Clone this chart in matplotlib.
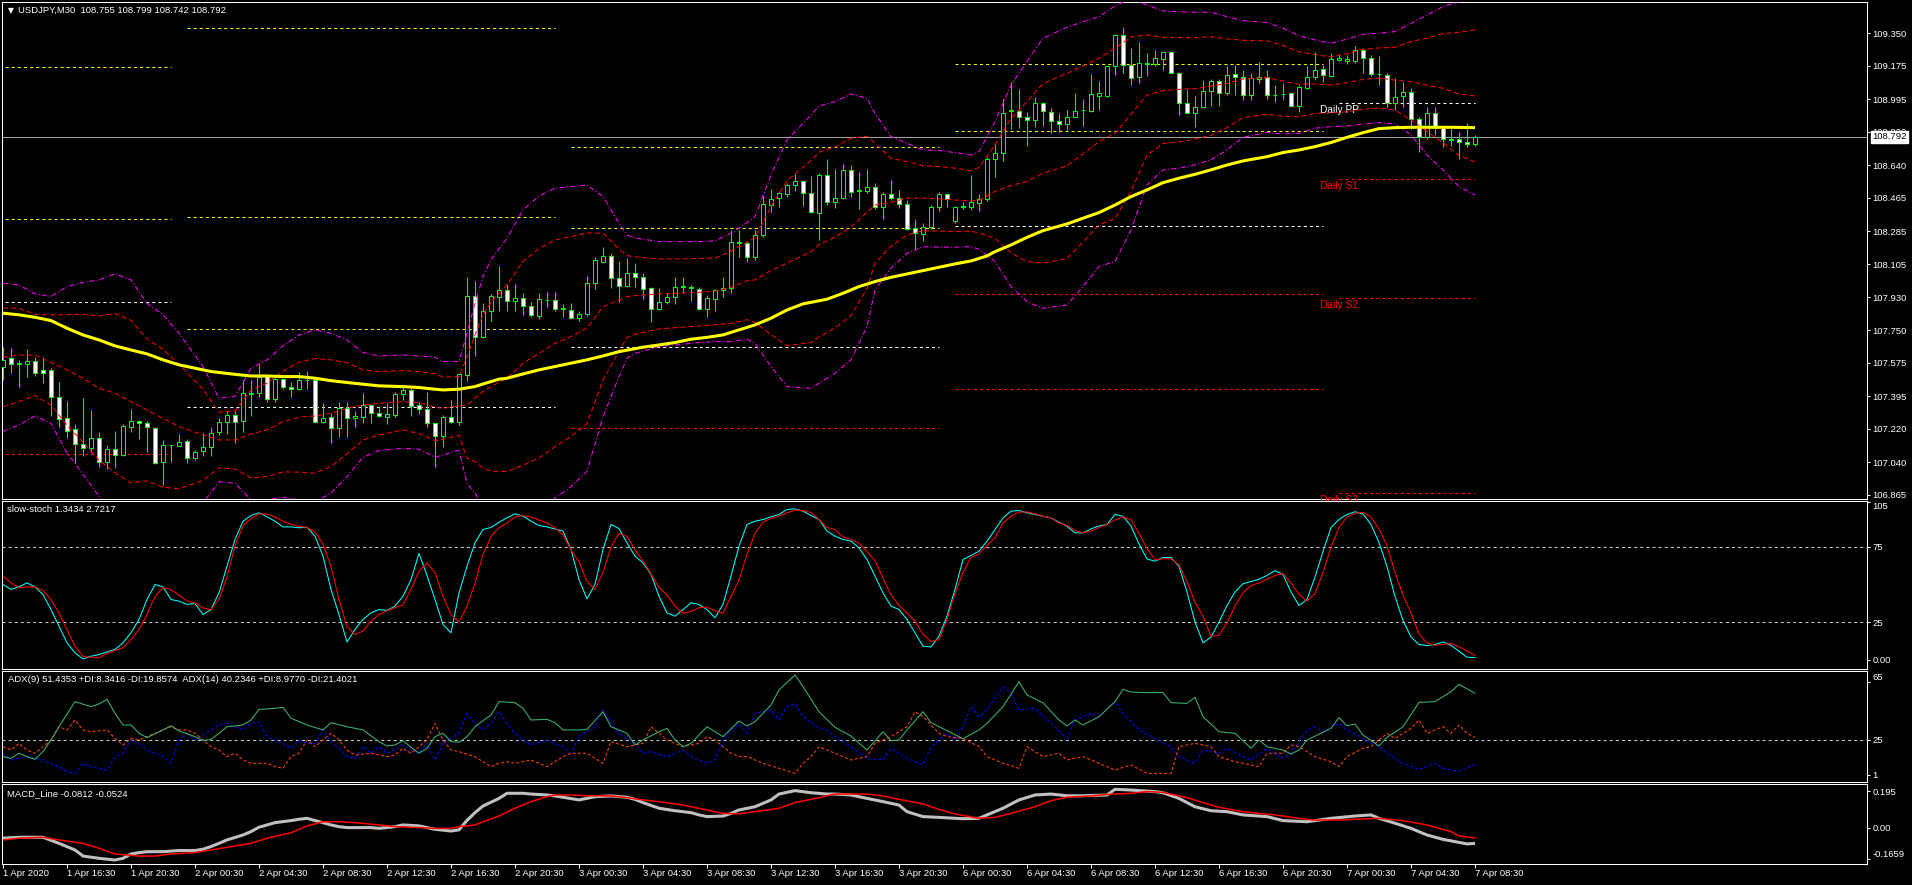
import matplotlib
matplotlib.use("Agg")
import matplotlib.pyplot as plt
from matplotlib import font_manager as fm
from matplotlib import transforms as mtrans

plt.rcParams['lines.scale_dashes'] = False
_names = {f.name for f in fm.fontManager.ttflist}
if 'Liberation Sans Narrow' in _names:
    FONT, FS = ['Liberation Sans Narrow', 'DejaVu Sans'], 8
else:
    FONT, FS = ['Liberation Sans', 'DejaVu Sans'], 6.8
plt.rcParams['font.family'] = FONT

# ---------------- data: USDJPY M30 candles (bar 0 = 1 Apr 12:30) ----------------
opens = [107.556, 107.604, 107.570, 107.568, 107.586, 107.538, 107.538, 107.391, 107.278, 107.219,
         107.138, 107.116, 107.170, 107.045, 107.111, 107.079, 107.228, 107.263, 107.251, 107.224,
         107.045, 107.133, 107.131, 107.158, 107.063, 107.104, 107.122, 107.202, 107.256, 107.296,
         107.265, 107.409, 107.412, 107.505, 107.380, 107.488, 107.445, 107.434, 107.482, 107.484,
         107.260, 107.283, 107.224, 107.332, 107.278, 107.287, 107.350, 107.305, 107.287, 107.296,
         107.407, 107.430, 107.350, 107.326, 107.251, 107.183, 107.283, 107.260, 107.511, 107.936,
         107.713, 107.852, 107.932, 107.968, 107.911, 107.923, 107.882, 107.828, 107.913, 107.914,
         107.866, 107.861, 107.816, 107.839, 108.008, 108.120, 108.153, 108.031, 107.991, 108.061,
         108.040, 107.977, 107.864, 107.905, 107.932, 107.984, 107.981, 107.972, 107.864, 107.918,
         107.965, 107.977, 108.228, 108.219, 108.147, 108.262, 108.425, 108.461, 108.484, 108.531,
         108.556, 108.488, 108.384, 108.587, 108.443, 108.461, 108.614, 108.501, 108.502, 108.520,
         108.413, 108.484, 108.461, 108.431, 108.300, 108.268, 108.309, 108.413, 108.484, 108.341,
         108.415, 108.416, 108.438, 108.456, 108.671, 108.707, 108.931, 108.933, 108.900, 108.883,
         108.976, 108.927, 108.879, 108.861, 108.900, 108.935, 108.933, 109.013, 109.013, 109.173,
         109.340, 109.178, 109.112, 109.186, 109.184, 109.209, 109.246, 109.137, 108.976, 108.922,
         108.954, 109.040, 109.094, 109.030, 109.130, 109.116, 109.017, 109.105, 109.112, 109.015,
         109.021, 109.026, 108.958, 109.053, 109.112, 109.155, 109.119, 109.205, 109.202, 109.202,
         109.259, 109.214, 109.128, 109.125, 108.972, 109.013, 109.035, 108.886, 108.789, 108.922,
         108.838, 108.777, 108.779, 108.762, 108.755]
highs = [107.660, 107.654, 107.592, 107.649, 107.609, 107.609, 107.547, 107.475, 107.373, 107.247,
         107.389, 107.323, 107.202, 107.134, 107.210, 107.247, 107.326, 107.269, 107.263, 107.233,
         107.161, 107.136, 107.194, 107.165, 107.107, 107.197, 107.233, 107.278, 107.319, 107.319,
         107.484, 107.484, 107.570, 107.511, 107.505, 107.493, 107.475, 107.529, 107.534, 107.493,
         107.362, 107.305, 107.367, 107.367, 107.319, 107.416, 107.355, 107.344, 107.362, 107.421,
         107.448, 107.439, 107.367, 107.421, 107.254, 107.296, 107.376, 107.523, 108.036, 108.018,
         107.900, 107.947, 108.097, 108.000, 108.000, 107.950, 107.905, 107.950, 107.959, 107.959,
         107.893, 107.896, 107.852, 108.043, 108.147, 108.198, 108.169, 108.124, 108.138, 108.115,
         108.061, 107.982, 107.977, 107.954, 108.036, 108.036, 107.995, 107.982, 107.941, 107.972,
         108.036, 108.291, 108.291, 108.233, 108.291, 108.474, 108.510, 108.497, 108.545, 108.592,
         108.560, 108.581, 108.596, 108.671, 108.617, 108.646, 108.640, 108.605, 108.617, 108.545,
         108.497, 108.560, 108.506, 108.452, 108.348, 108.330, 108.425, 108.497, 108.492, 108.420,
         108.443, 108.587, 108.484, 108.685, 108.753, 108.994, 109.089, 109.047, 108.927, 109.008,
         108.981, 108.945, 108.922, 108.936, 109.026, 108.994, 109.130, 109.094, 109.178, 109.345,
         109.385, 109.268, 109.304, 109.245, 109.259, 109.250, 109.250, 109.142, 109.044, 109.012,
         109.098, 109.101, 109.101, 109.173, 109.178, 109.151, 109.137, 109.196, 109.151, 109.071,
         109.083, 109.035, 109.071, 109.173, 109.250, 109.178, 109.241, 109.238, 109.232, 109.281,
         109.268, 109.232, 109.227, 109.134, 109.107, 109.089, 109.053, 108.900, 108.951, 108.951,
         108.847, 108.847, 108.820, 108.865, 108.799]
lows = [107.484, 107.520, 107.448, 107.502, 107.505, 107.466, 107.290, 107.229, 107.170, 107.036,
        107.075, 107.090, 107.014, 107.003, 107.009, 107.075, 107.206, 107.165, 107.098, 107.032,
        106.916, 107.045, 107.131, 107.039, 107.054, 107.075, 107.072, 107.185, 107.194, 107.143,
        107.206, 107.290, 107.394, 107.367, 107.367, 107.434, 107.391, 107.430, 107.434, 107.254,
        107.254, 107.143, 107.179, 107.176, 107.229, 107.254, 107.254, 107.283, 107.247, 107.287,
        107.376, 107.290, 107.301, 107.229, 107.014, 107.125, 107.251, 107.242, 107.480, 107.613,
        107.708, 107.803, 107.852, 107.857, 107.857, 107.834, 107.825, 107.810, 107.875, 107.857,
        107.821, 107.810, 107.803, 107.828, 107.972, 108.112, 107.977, 107.905, 107.982, 107.982,
        107.918, 107.798, 107.861, 107.893, 107.893, 107.954, 107.911, 107.861, 107.821, 107.857,
        107.929, 107.954, 108.144, 108.120, 108.129, 108.251, 108.389, 108.413, 108.467, 108.502,
        108.420, 108.384, 108.237, 108.425, 108.407, 108.456, 108.467, 108.402, 108.488, 108.402,
        108.348, 108.452, 108.407, 108.291, 108.187, 108.233, 108.294, 108.395, 108.413, 108.327,
        108.402, 108.398, 108.395, 108.449, 108.574, 108.664, 108.832, 108.838, 108.743, 108.843,
        108.850, 108.814, 108.820, 108.829, 108.897, 108.850, 108.927, 108.936, 109.008, 109.125,
        109.137, 109.071, 109.083, 109.119, 109.173, 109.151, 109.134, 108.909, 108.918, 108.843,
        108.951, 108.958, 108.958, 109.017, 109.017, 108.990, 108.990, 109.083, 108.994, 108.981,
        108.990, 108.951, 108.927, 109.047, 109.098, 109.089, 109.116, 109.202, 109.184, 109.187,
        109.137, 109.119, 109.071, 108.951, 108.936, 108.954, 108.832, 108.712, 108.779, 108.802,
        108.735, 108.743, 108.671, 108.739, 108.742]
closes = [107.592, 107.568, 107.575, 107.586, 107.520, 107.520, 107.391, 107.272, 107.211, 107.138,
          107.116, 107.170, 107.045, 107.111, 107.079, 107.237, 107.263, 107.251, 107.229, 107.039,
          107.134, 107.134, 107.152, 107.063, 107.098, 107.122, 107.197, 107.256, 107.296, 107.260,
          107.412, 107.412, 107.502, 107.380, 107.488, 107.445, 107.434, 107.484, 107.486, 107.260,
          107.278, 107.224, 107.332, 107.278, 107.290, 107.350, 107.305, 107.290, 107.299, 107.407,
          107.430, 107.344, 107.326, 107.254, 107.183, 107.287, 107.260, 107.516, 107.936, 107.713,
          107.852, 107.936, 107.968, 107.911, 107.923, 107.882, 107.834, 107.918, 107.916, 107.864,
          107.869, 107.816, 107.839, 108.004, 108.129, 108.151, 108.031, 107.991, 108.061, 108.040,
          107.972, 107.864, 107.905, 107.929, 107.986, 107.988, 107.984, 107.864, 107.923, 107.965,
          107.977, 108.228, 108.219, 108.147, 108.262, 108.431, 108.456, 108.488, 108.531, 108.556,
          108.488, 108.389, 108.587, 108.443, 108.461, 108.614, 108.497, 108.504, 108.520, 108.413,
          108.484, 108.461, 108.431, 108.294, 108.273, 108.309, 108.413, 108.484, 108.456, 108.413,
          108.418, 108.443, 108.456, 108.671, 108.707, 108.922, 108.935, 108.900, 108.883, 108.976,
          108.933, 108.879, 108.861, 108.897, 108.933, 108.938, 109.021, 109.026, 109.173, 109.340,
          109.178, 109.107, 109.187, 109.189, 109.214, 109.246, 109.137, 108.976, 108.922, 108.954,
          109.040, 109.094, 109.030, 109.125, 109.116, 109.017, 109.107, 109.116, 109.017, 109.019,
          109.024, 108.958, 109.058, 109.112, 109.151, 109.125, 109.209, 109.214, 109.212, 109.259,
          109.214, 109.130, 109.132, 108.972, 109.008, 109.035, 108.886, 108.793, 108.918, 108.838,
          108.779, 108.780, 108.766, 108.752, 108.792]

# moving average (yellow)
ma_idx = [0, 2, 4, 6, 8, 10, 12, 14, 16, 18, 20, 22, 24, 26, 29, 31, 33, 35, 37, 39,
          41, 43, 45, 47, 50, 52, 54, 55, 57, 59, 60, 62, 63, 65, 67, 69, 71, 73, 75, 77,
          80, 82, 84, 86, 88, 90, 92, 94, 96, 98, 100, 103, 105, 107, 109, 111, 113, 115, 117, 119,
          121, 123, 124, 126, 128, 130, 133, 135, 137, 139, 141, 143, 145, 147, 149, 151, 153, 155, 158, 160,
          162, 164, 166, 168, 170, 172, 174, 176, 181, 184]
ma_val = [107.843, 107.834, 107.821, 107.803, 107.762, 107.726, 107.699, 107.667, 107.645, 107.624,
          107.592, 107.565, 107.547, 107.529, 107.514, 107.505, 107.505, 107.502, 107.502, 107.493,
          107.480, 107.470, 107.461, 107.452, 107.448, 107.443, 107.434, 107.430, 107.434, 107.448,
          107.462, 107.488, 107.493, 107.516, 107.538, 107.556, 107.574, 107.592, 107.613, 107.636,
          107.660, 107.672, 107.685, 107.703, 107.713, 107.726, 107.753, 107.780, 107.816, 107.860,
          107.893, 107.918, 107.950, 107.986, 108.013, 108.036, 108.054, 108.072, 108.090, 108.108,
          108.124, 108.151, 108.174, 108.210, 108.251, 108.287, 108.323, 108.354, 108.384, 108.425,
          108.470, 108.506, 108.545, 108.569, 108.590, 108.614, 108.640, 108.662, 108.685, 108.707,
          108.721, 108.739, 108.761, 108.789, 108.814, 108.836, 108.841, 108.843, 108.843, 108.841]

# bollinger bands: red = middle / 2 sigma, magenta = 3 sigma
bb_idx = [0, 2, 4, 6, 8, 10, 12, 14, 16, 18, 20, 22, 25, 27, 29, 31, 33, 35, 37, 39,
          41, 43, 45, 47, 50, 52, 54, 55, 57, 58, 59, 60, 61, 63, 65, 67, 69, 71, 73, 75,
          77, 78, 79, 82, 84, 87, 89, 91, 93, 94, 96, 98, 101, 102, 104, 106, 108, 109, 111, 113,
          115, 117, 119, 121, 122, 124, 126, 128, 130, 133, 135, 137, 139, 141, 143, 145, 147, 149, 151, 153,
          155, 158, 160, 162, 164, 166, 168, 170, 172, 174, 176, 178, 180, 182, 184]
bb_mid = [107.606, 107.618, 107.618, 107.577, 107.538, 107.493, 107.439, 107.413, 107.367, 107.322,
          107.277, 107.233, 107.188, 107.161, 107.161, 107.193, 107.215, 107.259, 107.283, 107.290,
          107.304, 107.331, 107.349, 107.358, 107.367, 107.362, 107.337, 107.331, 107.344, 107.349,
          107.386, 107.422, 107.448, 107.493, 107.574, 107.627, 107.681, 107.717, 107.762, 107.878,
          107.914, 107.932, 107.937, 107.947, 107.950, 107.955, 107.961, 107.983, 108.017, 108.022,
          108.072, 108.112, 108.174, 108.212, 108.251, 108.307, 108.386, 108.425, 108.439, 108.462,
          108.462, 108.458, 108.452, 108.447, 108.450, 108.498, 108.530, 108.551, 108.596, 108.635,
          108.700, 108.766, 108.811, 108.913, 109.017, 109.040, 109.047, 109.051, 109.065, 109.079,
          109.103, 109.110, 109.092, 109.074, 109.076, 109.070, 109.083, 109.101, 109.108, 109.097,
          109.088, 109.070, 109.053, 109.022, 109.012]
bb_up2 = [107.871, 107.869, 107.837, 107.834, 107.835, 107.837, 107.828, 107.841, 107.805, 107.705,
          107.649, 107.568, 107.434, 107.310, 107.317, 107.429, 107.466, 107.531, 107.579, 107.599,
          107.592, 107.577, 107.538, 107.529, 107.534, 107.529, 107.517, 107.499, 107.502, 107.608,
          107.726, 107.834, 107.903, 107.995, 108.122, 108.191, 108.237, 108.255, 108.275, 108.273,
          108.189, 108.153, 108.146, 108.135, 108.135, 108.137, 108.140, 108.176, 108.225, 108.250,
          108.416, 108.555, 108.664, 108.709, 108.737, 108.784, 108.795, 108.757, 108.675, 108.659,
          108.636, 108.632, 108.623, 108.610, 108.627, 108.748, 108.891, 108.981, 109.079, 109.133,
          109.173, 109.215, 109.268, 109.329, 109.340, 109.327, 109.326, 109.324, 109.331, 109.319,
          109.311, 109.308, 109.283, 109.250, 109.234, 109.221, 109.239, 109.262, 109.270, 109.273,
          109.304, 109.322, 109.347, 109.354, 109.367]
bb_lo2 = [107.340, 107.367, 107.400, 107.349, 107.240, 107.149, 107.052, 106.984, 106.930, 106.941,
          106.907, 106.898, 106.943, 107.011, 107.005, 106.957, 106.964, 106.989, 106.988, 106.982,
          107.018, 107.086, 107.161, 107.188, 107.215, 107.195, 107.158, 107.165, 107.186, 107.063,
          107.045, 107.009, 106.993, 106.991, 107.025, 107.064, 107.125, 107.179, 107.249, 107.484,
          107.640, 107.712, 107.730, 107.758, 107.765, 107.774, 107.781, 107.788, 107.808, 107.794,
          107.728, 107.669, 107.685, 107.715, 107.763, 107.830, 107.976, 108.112, 108.203, 108.264,
          108.287, 108.284, 108.282, 108.284, 108.275, 108.246, 108.167, 108.121, 108.112, 108.137,
          108.226, 108.317, 108.353, 108.498, 108.694, 108.755, 108.764, 108.779, 108.800, 108.841,
          108.895, 108.913, 108.902, 108.899, 108.918, 108.920, 108.927, 108.940, 108.947, 108.936,
          108.883, 108.820, 108.759, 108.691, 108.657]
bb_up3 = [108.004, 107.995, 107.947, 107.933, 107.986, 108.008, 108.022, 108.055, 108.022, 107.896,
          107.834, 107.735, 107.556, 107.386, 107.395, 107.547, 107.592, 107.667, 107.726, 107.753,
          107.735, 107.699, 107.631, 107.613, 107.618, 107.613, 107.606, 107.583, 107.583, 107.735,
          107.896, 108.040, 108.131, 108.246, 108.398, 108.474, 108.515, 108.524, 108.532, 108.471,
          108.326, 108.264, 108.248, 108.228, 108.228, 108.228, 108.232, 108.273, 108.330, 108.362,
          108.587, 108.775, 108.909, 108.958, 108.981, 109.022, 108.999, 108.918, 108.793, 108.757,
          108.721, 108.718, 108.707, 108.693, 108.712, 108.873, 109.070, 109.197, 109.322, 109.381,
          109.411, 109.438, 109.496, 109.537, 109.501, 109.469, 109.465, 109.462, 109.462, 109.438,
          109.417, 109.406, 109.376, 109.336, 109.313, 109.295, 109.317, 109.343, 109.349, 109.358,
          109.402, 109.447, 109.492, 109.519, 109.546]
bb_lo3 = [107.207, 107.242, 107.290, 107.250, 107.091, 106.977, 106.858, 106.771, 106.712, 106.749,
          106.722, 106.731, 106.821, 106.936, 106.928, 106.839, 106.839, 106.853, 106.839, 106.828,
          106.875, 106.964, 107.068, 107.104, 107.116, 107.111, 107.068, 107.080, 107.106, 106.928,
          106.875, 106.803, 106.765, 106.740, 106.751, 106.783, 106.848, 106.910, 106.993, 107.286,
          107.502, 107.601, 107.627, 107.663, 107.672, 107.685, 107.690, 107.690, 107.703, 107.681,
          107.556, 107.448, 107.439, 107.466, 107.520, 107.592, 107.771, 107.968, 108.085, 108.165,
          108.201, 108.198, 108.198, 108.201, 108.187, 108.121, 107.986, 107.905, 107.869, 107.887,
          107.986, 108.094, 108.121, 108.291, 108.533, 108.614, 108.623, 108.641, 108.668, 108.721,
          108.789, 108.815, 108.807, 108.811, 108.838, 108.847, 108.850, 108.861, 108.868, 108.861,
          108.802, 108.694, 108.614, 108.524, 108.479]

# daily pivot levels (start bar, end bar of each day)
piv_start = [-1, 23, 71, 119, 167]
piv_end = [21, 69, 117, 165, 184]
piv_res = [[109.165, 108.348], [109.375, 108.359, 107.756], [108.737, 108.299], [109.182, 108.821], []]
piv_pp = [107.901, 107.337, 107.659, 108.310, 108.972]
piv_sup = [[107.084], [], [107.223], [107.944, 107.433], [108.563, 107.923, 106.874]]
piv_names = ['Daily PP', 'Daily S1', 'Daily S2', 'Daily S3']

# slow stochastic (every bar)
stoch_main = [50.0, 46.7, 48.4, 51.1, 48.4, 43.3, 33.3, 22.2, 11.1, 4.4,
              0.4, 2.2, 3.3, 5.0, 6.7, 11.1, 17.8, 26.7, 40.0, 50.0,
              48.4, 40.0, 38.9, 36.7, 37.3, 30.0, 33.3, 44.4, 62.2, 80.0,
              92.2, 96.0, 97.8, 95.1, 92.2, 88.4, 88.4, 87.8, 88.2, 82.2,
              68.9, 46.7, 30.0, 11.6, 20.0, 26.7, 31.1, 33.3, 32.7, 35.6,
              42.2, 53.3, 70.7, 56.0, 40.0, 23.3, 17.8, 44.4, 62.2, 77.8,
              86.7, 88.0, 91.5, 94.5, 97.1, 95.6, 92.2, 89.3, 88.4, 87.0,
              85.6, 73.3, 53.3, 40.4, 50.0, 73.3, 90.0, 87.3, 77.8, 68.9,
              64.4, 56.7, 42.2, 31.1, 28.9, 33.3, 37.8, 36.7, 33.3, 27.8,
              36.7, 55.6, 75.6, 90.0, 92.2, 93.3, 95.1, 96.7, 100.0, 100.4,
              98.9, 96.0, 93.3, 85.6, 82.2, 80.0, 78.9, 74.4, 66.7, 55.6,
              44.4, 35.6, 33.3, 26.7, 17.8, 8.9, 8.4, 15.6, 28.9, 46.7,
              66.7, 69.3, 72.2, 78.9, 86.7, 94.4, 98.9, 99.3, 97.8, 96.7,
              95.5, 94.4, 91.5, 88.9, 84.4, 84.4, 87.1, 89.0, 90.0, 96.7,
              95.5, 89.0, 77.0, 67.0, 65.6, 68.0, 68.0, 62.0, 45.0, 25.0,
              11.1, 15.0, 25.0, 36.0, 45.0, 50.5, 52.0, 53.5, 56.0, 59.3,
              56.7, 45.0, 36.0, 40.0, 55.0, 72.0, 88.0, 93.3, 96.7, 98.5,
              97.0, 90.0, 78.0, 62.0, 42.0, 26.0, 15.0, 10.0, 9.3, 10.0,
              11.6, 9.5, 5.5, 1.5, 1.34]
stoch_signal = [55.6, 51.1, 47.8, 48.4, 48.4, 46.0, 40.0, 31.0, 20.0, 8.9,
                2.0, 1.5, 1.1, 4.0, 6.0, 7.8, 13.3, 20.0, 30.0, 42.0,
                48.0, 46.5, 43.0, 39.0, 37.6, 34.4, 33.3, 40.0, 55.0, 76.0,
                89.0, 94.0, 97.0, 97.0, 95.0, 92.2, 90.0, 88.8, 88.0, 85.0,
                77.0, 62.0, 40.0, 22.0, 16.7, 18.9, 25.6, 30.0, 32.5, 34.5,
                36.5, 46.7, 59.0, 64.4, 58.0, 42.0, 30.0, 25.0, 35.6, 51.0,
                70.0, 82.0, 87.8, 91.0, 95.0, 96.0, 95.0, 93.0, 91.0, 87.8,
                83.0, 73.0, 65.0, 52.0, 46.7, 58.0, 75.0, 84.0, 82.0, 73.3,
                65.6, 57.0, 48.0, 43.0, 35.6, 30.7, 32.0, 34.5, 35.0, 32.5,
                30.7, 42.0, 53.0, 70.0, 84.4, 91.6, 94.0, 95.5, 97.8, 99.6,
                99.3, 98.0, 93.3, 88.0, 86.7, 81.8, 80.0, 77.5, 72.0, 66.0,
                54.0, 43.3, 36.0, 31.0, 25.6, 16.7, 12.0, 13.3, 26.7, 44.0,
                58.0, 68.0, 70.5, 76.0, 81.1, 91.0, 95.5, 98.2, 98.4, 97.1,
                95.5, 94.4, 91.0, 89.5, 86.0, 84.5, 85.6, 88.0, 90.0, 93.0,
                95.1, 93.3, 84.0, 74.0, 66.5, 67.1, 67.1, 63.0, 52.0, 38.0,
                28.9, 15.6, 16.0, 24.4, 35.6, 44.4, 49.3, 51.0, 53.5, 56.0,
                57.3, 51.0, 43.3, 39.0, 44.0, 58.0, 75.0, 88.0, 95.0, 97.5,
                98.2, 95.0, 87.0, 76.0, 58.0, 43.0, 31.0, 17.0, 11.0, 9.5,
                10.0, 10.7, 8.5, 5.6, 2.72]

# ADX with +DI / -DI
adx_i = [0, 1, 2, 3, 4, 5, 6, 7, 9, 11, 12, 13, 14, 15, 16, 17, 18, 20, 21, 22,
         24, 25, 26, 27, 28, 30, 31, 32, 34, 35, 36, 38, 40, 41, 43, 45, 47, 48, 49, 50,
         51, 52, 53, 54, 55, 56, 57, 58, 59, 60, 61, 62, 64, 65, 66, 68, 69, 70, 72, 73,
         75, 76, 78, 79, 80, 82, 83, 84, 85, 86, 88, 90, 92, 93, 94, 96, 97, 99, 100, 102,
         104, 106, 108, 110, 111, 112, 113, 115, 116, 118, 120, 122, 123, 125, 127, 128, 130, 132, 133, 134,
         135, 137, 139, 140, 141, 143, 145, 146, 148, 149, 150, 152, 154, 156, 157, 158, 160, 161, 162, 163,
         166, 167, 168, 169, 170, 172, 173, 175, 177, 179, 181, 182, 184]
adx_v = [13.6, 12.4, 15.9, 13.6, 11.7, 17.0, 25.0, 34.1, 51.3, 47.9, 49.7, 52.9, 43.3, 35.3, 35.3, 29.6, 26.6, 31.9, 34.8, 31.2,
         27.3, 24.5, 25.5, 29.6, 34.1, 35.3, 38.7, 46.0, 46.7, 47.4, 39.9, 35.3, 31.9, 36.9, 34.1, 31.9, 23.9, 20.9, 21.6, 24.5,
         20.0, 15.9, 19.3, 27.3, 29.6, 23.9, 23.4, 27.3, 34.1, 38.3, 42.1, 51.3, 50.6, 46.7, 38.7, 39.2, 36.9, 31.9, 31.9, 32.3,
         44.4, 34.1, 29.6, 21.6, 25.0, 30.7, 33.0, 25.0, 20.4, 22.7, 34.1, 27.3, 38.0, 34.6, 37.6, 49.0, 59.3, 69.6, 61.6, 44.4,
         33.7, 27.7, 18.1, 30.7, 24.5, 25.0, 31.9, 44.4, 36.9, 31.4, 25.9, 31.9, 36.4, 47.9, 65.0, 55.9, 50.6, 38.7, 34.6, 38.7,
         35.3, 41.0, 51.3, 59.7, 57.9, 57.5, 57.5, 50.6, 50.1, 54.3, 41.0, 30.7, 29.6, 19.3, 25.0, 20.4, 18.1, 15.4, 18.1, 25.0,
         33.0, 40.3, 34.8, 36.0, 28.4, 20.9, 26.8, 34.1, 50.8, 51.3, 58.1, 63.2, 57.0]
pdi_i = [0, 1, 3, 5, 7, 8, 9, 10, 11, 13, 14, 15, 16, 17, 18, 20, 21, 22, 23, 24,
         26, 27, 28, 29, 30, 31, 32, 33, 35, 36, 37, 38, 39, 40, 41, 42, 43, 44, 45, 46,
         47, 48, 49, 50, 51, 52, 53, 54, 55, 57, 58, 59, 60, 61, 62, 63, 64, 65, 66, 68,
         70, 71, 72, 74, 75, 76, 77, 79, 80, 81, 83, 85, 86, 88, 89, 90, 91, 92, 93, 94,
         96, 97, 98, 99, 100, 102, 103, 104, 106, 108, 110, 111, 113, 115, 116, 118, 119, 120, 121, 122,
         123, 124, 125, 126, 127, 129, 131, 133, 134, 136, 137, 139, 140, 142, 144, 146, 147, 149, 150, 152,
         153, 155, 156, 158, 160, 161, 163, 164, 165, 167, 168, 170, 172, 173, 175, 177, 179, 180, 182, 184]
pdi_v = [15.9, 11.3, 13.6, 11.3, 6.7, 3.3, 2.1, 9.0, 6.7, 4.4, 13.6, 15.9, 25.0, 22.7, 18.1, 13.6, 9.0, 25.0, 29.6, 25.0,
         31.9, 35.3, 36.4, 34.1, 31.9, 36.4, 37.6, 27.3, 22.7, 19.3, 25.0, 22.7, 22.7, 31.9, 23.9, 19.3, 13.6, 12.4, 20.4, 15.9,
         20.4, 15.9, 18.1, 21.6, 18.1, 15.9, 22.7, 11.3, 22.7, 29.6, 43.3, 36.4, 31.9, 36.4, 44.4, 36.4, 29.6, 25.0, 21.6, 25.0,
         20.4, 15.9, 27.3, 34.1, 45.6, 36.4, 29.6, 22.7, 15.9, 17.0, 13.6, 18.1, 13.6, 9.0, 11.3, 25.0, 31.9, 36.0, 29.6, 43.3,
         45.6, 38.7, 47.9, 50.1, 41.0, 33.0, 31.9, 27.3, 20.4, 12.4, 11.3, 19.3, 12.4, 7.9, 20.4, 29.6, 25.0, 34.1, 47.9, 41.0,
         45.6, 53.6, 61.6, 57.0, 45.6, 46.7, 36.4, 26.1, 38.7, 43.3, 41.0, 51.3, 43.3, 31.9, 26.1, 20.4, 13.6, 9.0, 18.1, 15.9,
         19.3, 13.6, 11.3, 19.3, 12.4, 15.9, 31.9, 34.1, 30.7, 36.4, 31.9, 26.1, 20.4, 15.9, 9.0, 4.9, 9.0, 5.6, 3.3, 8.3]
mdi_i = [0, 1, 2, 3, 4, 6, 7, 8, 9, 10, 11, 13, 14, 15, 16, 17, 20, 21, 22, 23,
         24, 26, 27, 28, 29, 30, 31, 33, 34, 35, 36, 37, 38, 39, 40, 41, 42, 43, 44, 46,
         47, 48, 49, 50, 51, 53, 54, 55, 56, 57, 59, 60, 61, 62, 63, 64, 66, 68, 70, 71,
         73, 75, 76, 78, 80, 81, 82, 83, 85, 87, 88, 89, 91, 92, 93, 95, 97, 99, 100, 101,
         102, 104, 106, 108, 109, 111, 113, 114, 115, 117, 118, 120, 122, 123, 125, 127, 128, 130, 132, 133,
         135, 137, 139, 141, 143, 146, 147, 149, 151, 152, 154, 156, 157, 158, 160, 161, 162, 164, 166, 167,
         168, 170, 171, 173, 174, 176, 177, 178, 180, 181, 182, 183, 184]
mdi_v = [20.4, 18.1, 22.7, 18.1, 15.9, 25.0, 34.1, 31.9, 38.7, 31.9, 30.7, 31.9, 26.1, 21.6, 26.1, 25.0, 31.9, 34.1, 31.9, 31.9,
         29.6, 20.4, 18.1, 13.6, 15.9, 11.3, 9.0, 9.0, 6.7, 5.6, 13.6, 15.9, 25.0, 20.4, 25.0, 29.6, 25.0, 18.1, 14.7, 15.9,
         14.7, 13.6, 14.7, 19.3, 15.9, 25.0, 36.4, 25.0, 18.1, 17.0, 13.6, 10.1, 6.7, 9.0, 10.1, 9.0, 11.3, 6.7, 13.6, 15.9,
         15.9, 9.0, 23.9, 20.4, 22.7, 34.1, 29.6, 25.0, 20.4, 22.7, 27.3, 25.0, 15.9, 13.6, 13.6, 9.0, 5.6, 2.1, 9.0, 13.6,
         20.4, 15.9, 11.3, 13.6, 22.7, 27.3, 34.1, 44.4, 41.0, 29.6, 27.3, 26.1, 20.4, 13.6, 9.0, 5.6, 20.4, 13.6, 15.9, 11.3,
         13.6, 9.0, 4.4, 7.9, 2.1, 2.1, 20.4, 22.7, 20.4, 13.6, 10.1, 7.9, 6.7, 15.9, 15.9, 21.6, 20.4, 13.6, 10.1, 6.7,
         13.6, 19.3, 20.4, 29.6, 26.1, 33.0, 38.7, 29.6, 34.1, 29.6, 35.3, 29.6, 26.8]

# MACD line and signal
macd_i = [0, 2, 5, 7, 9, 10, 12, 14, 15, 16, 17, 18, 20, 22, 24, 25, 26, 27, 28, 30,
          31, 32, 33, 34, 36, 37, 38, 39, 40, 41, 42, 43, 46, 47, 49, 50, 52, 53, 54, 56,
          57, 58, 59, 60, 62, 63, 65, 66, 68, 69, 70, 72, 74, 76, 78, 79, 80, 82, 84, 86,
          87, 88, 90, 91, 92, 94, 96, 97, 99, 101, 103, 104, 106, 108, 110, 112, 113, 115, 117, 119,
          120, 122, 123, 125, 127, 129, 131, 133, 135, 138, 139, 141, 144, 145, 147, 149, 151, 153, 155, 158,
          160, 163, 166, 169, 171, 172, 174, 176, 178, 180, 183, 184]
macd_v = [-0.054, -0.049, -0.049, -0.081, -0.116, -0.148, -0.160, -0.169, -0.160, -0.137,
          -0.130, -0.125, -0.125, -0.119, -0.119, -0.112, -0.098, -0.081, -0.063, -0.037,
          -0.019, 0.004, 0.016, 0.028, 0.039, 0.046, 0.051, 0.039, 0.028, 0.016,
          0.007, 0.002, 0.002, -0.002, 0.007, 0.016, 0.011, 0.002, -0.007, -0.016,
          -0.010, 0.040, 0.081, 0.116, 0.156, 0.183, 0.183, 0.179, 0.174, 0.169,
          0.162, 0.148, 0.165, 0.169, 0.162, 0.151, 0.134, 0.104, 0.091, 0.081,
          0.069, 0.060, 0.063, 0.077, 0.095, 0.112, 0.148, 0.179, 0.197, 0.186,
          0.179, 0.179, 0.174, 0.156, 0.139, 0.121, 0.086, 0.060, 0.056, 0.051,
          0.049, 0.051, 0.069, 0.104, 0.148, 0.174, 0.179, 0.170, 0.170, 0.174,
          0.204, 0.200, 0.192, 0.186, 0.156, 0.112, 0.091, 0.086, 0.069, 0.060,
          0.039, 0.033, 0.051, 0.063, 0.069, 0.051, 0.025, -0.002, -0.037, -0.060,
          -0.084, -0.0812]
sig_i = [0, 2, 5, 7, 10, 12, 14, 17, 19, 21, 24, 26, 28, 31, 33, 36, 38, 40, 42, 44,
         47, 49, 52, 54, 56, 57, 59, 60, 62, 64, 66, 68, 69, 71, 73, 76, 78, 80, 82, 85,
         88, 90, 92, 94, 97, 99, 102, 104, 108, 110, 112, 115, 117, 119, 122, 124, 126, 129, 131, 133,
         136, 138, 141, 143, 145, 148, 150, 152, 155, 157, 159, 162, 164, 167, 169, 172, 175, 178, 181, 182,
         184]
sig_v = [-0.063, -0.054, -0.049, -0.063, -0.081, -0.107, -0.137, -0.148, -0.148, -0.137,
         -0.130, -0.116, -0.102, -0.081, -0.054, -0.025, 0.011, 0.033, 0.033, 0.028,
         0.016, 0.007, 0.002, -0.002, -0.002, 0.007, 0.016, 0.033, 0.063, 0.104,
         0.139, 0.165, 0.174, 0.174, 0.170, 0.169, 0.160, 0.148, 0.139, 0.121,
         0.095, 0.077, 0.075, 0.086, 0.104, 0.134, 0.160, 0.179, 0.179, 0.169,
         0.151, 0.127, 0.098, 0.074, 0.051, 0.056, 0.077, 0.112, 0.144, 0.162,
         0.169, 0.177, 0.183, 0.192, 0.188, 0.160, 0.134, 0.109, 0.086, 0.077,
         0.069, 0.051, 0.042, 0.042, 0.046, 0.051, 0.039, 0.016, -0.019, -0.042,
         -0.0524]

# axis labels
time_ticks = list(range(0, 185, 8))
time_labels = ['1 Apr 2020', '1 Apr 16:30', '1 Apr 20:30', '2 Apr 00:30', '2 Apr 04:30', '2 Apr 08:30',
               '2 Apr 12:30', '2 Apr 16:30', '2 Apr 20:30', '3 Apr 00:30', '3 Apr 04:30', '3 Apr 08:30',
               '3 Apr 12:30', '3 Apr 16:30', '3 Apr 20:30', '6 Apr 00:30', '6 Apr 04:30', '6 Apr 08:30',
               '6 Apr 12:30', '6 Apr 16:30', '6 Apr 20:30', '7 Apr 00:30', '7 Apr 04:30', '7 Apr 08:30']
price_ticks = [109.350, 109.175, 108.995, 108.820, 108.640, 108.465, 108.285, 108.105,
               107.930, 107.750, 107.575, 107.395, 107.220, 107.040, 106.865]

# ---------------- figure ----------------
W, H = 1912, 885
L, R = 2, 1867
GREEN = '#00ff00'
RED_DASH = (0, (3.6, 2.2))
MAG_DASH = (0, (3.6, 1.5, 0.8, 1.5))
DOT = (0, (2.2, 2.2))

fig = plt.figure(figsize=(W / 100, H / 100), dpi=100, facecolor='black')


def panel(top, bottom, ylim):
    ax = fig.add_axes([L / W, 1 - bottom / H, (R - L) / W, (bottom - top) / H])
    ax.set_facecolor('black')
    for s in ax.spines.values():
        s.set_color('white')
        s.set_linewidth(0.75)
    ax.set_xlim(-0.125, 233)
    ax.set_ylim(*ylim)
    ax.yaxis.tick_right()
    ax.tick_params(axis='y', colors='white', direction='out', length=2.2, width=0.75,
                   pad=1.6, labelsize=FS)
    ax.tick_params(axis='x', bottom=False, labelbottom=False)
    return ax


ax = panel(2, 498.5, (106.846, 109.517))
ax_st = panel(500.5, 668.5, (-6.0, 106.0))
ax_adx = panel(670.5, 782, (-3.81, 72.67))
ax_m = panel(784, 864, (-0.190, 0.232))

# --- main price panel ---
for k in range(len(piv_pp)):
    s, e = piv_start[k], piv_end[k]
    if piv_res[k]:
        ax.hlines(piv_res[k], s, e, colors='#ffff00', linestyles=[DOT], lw=0.75, zorder=1)
    ax.hlines(piv_pp[k], s, e, colors='white', linestyles=[DOT], lw=0.75, zorder=1)
    if piv_sup[k]:
        ax.hlines(piv_sup[k], s, e, colors='#ff0000', linestyles=[DOT], lw=0.75, zorder=1)

label_levels = [piv_pp[-1]] + piv_sup[-1]
for name, lvl in zip(piv_names, label_levels):
    ax.text(164.6, lvl - 0.038, name, color='white' if name.endswith('PP') else '#ff0000',
            fontsize=FS + 0.5, ha='left', va='center', zorder=5)

last = closes[-1]
ax.axhline(last, color='#a0a0a0', lw=0.75, zorder=1.5)

idx = list(range(len(closes)))
ax.vlines(idx, lows, highs, colors=GREEN, lw=0.75, zorder=3)
bottoms = [min(o, c) for o, c in zip(opens, closes)]
heights = [abs(c - o) for o, c in zip(opens, closes)]
fills = ['black' if c >= o else 'white' for o, c in zip(opens, closes)]
ax.bar(idx, heights, bottom=bottoms, width=0.56, color=fills, edgecolor=GREEN,
       linewidth=0.75, zorder=4)

ax.plot(bb_idx, bb_up3, color='#ff00ff', lw=0.75, linestyle=MAG_DASH, zorder=5)
ax.plot(bb_idx, bb_lo3, color='#ff00ff', lw=0.75, linestyle=MAG_DASH, zorder=5)
ax.plot(bb_idx, bb_up2, color='#ff0000', lw=0.75, linestyle=RED_DASH, zorder=5)
ax.plot(bb_idx, bb_lo2, color='#ff0000', lw=0.75, linestyle=RED_DASH, zorder=5)
ax.plot(bb_idx, bb_mid, color='#ff0000', lw=0.75, linestyle=RED_DASH, zorder=5)
ax.plot(ma_idx, ma_val, color='#ffff00', lw=2.2, zorder=6, solid_capstyle='butt')

ax.set_yticks(price_ticks)
ax.set_yticklabels([f'{p:.3f}' for p in price_ticks])
tr = mtrans.blended_transform_factory(ax.transAxes, ax.transData)
ax.text(1 + 5 / (R - L), last, f'{last:.3f}', transform=tr, ha='left', va='center',
        fontsize=FS, color='black', clip_on=False, zorder=10,
        bbox=dict(boxstyle='square,pad=0.15', fc='white', ec='white'))

# --- stochastic ---
for lvl in (75, 25):
    ax_st.axhline(lvl, color='#c8c8c8', lw=0.75, linestyle=DOT)
ax_st.plot(idx, stoch_main, color='#00ffff', lw=0.75)
ax_st.plot(idx, stoch_signal, color='#ff0000', lw=0.75)
ax_st.set_yticks([105, 75, 25, 0])
ax_st.set_yticklabels(['105', '75', '25', '0.00'])
ax_st.get_yticklabels()[0].set_va('top')

# --- ADX ---
ax_adx.axhline(25, color='#c8c8c8', lw=0.75, linestyle=DOT)
ax_adx.plot(pdi_i, pdi_v, color='#0000ff', lw=0.75, linestyle=(0, (2.2, 1.5)))
ax_adx.plot(mdi_i, mdi_v, color='#ff4500', lw=0.75, linestyle=(0, (2.2, 1.5)))
ax_adx.plot(adx_i, adx_v, color='#3cb371', lw=0.75)
ax_adx.set_yticks([65, 25, 1])
ax_adx.set_yticklabels(['65', '25', '1'])
ax_adx.get_yticklabels()[0].set_va('bottom')

# --- MACD ---
ax_m.plot(macd_i, macd_v, color='#c0c0c0', lw=2.2, solid_capstyle='butt')
ax_m.plot(sig_i, sig_v, color='#ff0000', lw=1.1)
ax_m.set_yticks([0.195, 0.0, -0.1659])
ax_m.set_yticklabels(['0.195', '0.00', '-0.1659'])
ax_m.get_yticklabels()[2].set_va('bottom')
ax_m.tick_params(axis='x', bottom=True, labelbottom=True, colors='white', direction='out',
                 length=2.9, width=0.75, pad=1, labelsize=FS)
ax_m.set_xticks(time_ticks)
ax_m.set_xticklabels(time_labels, ha='left')

# --- window captions ---
fig.text(7.5 / W, 1 - 10.5 / H, '\u25bc', fontsize=5.5, color='white', va='center',
         family='DejaVu Sans')
fig.text(18 / W, 1 - 10.5 / H, 'USDJPY,M30  108.755 108.799 108.742 108.792',
         color='white', fontsize=FS, va='center')
fig.text(7 / W, 1 - 510 / H, 'slow-stoch 1.3434 2.7217', color='white', fontsize=FS, va='center')
fig.text(8 / W, 1 - 680 / H,
         'ADX(9) 51.4353 +DI:8.3416 -DI:19.8574  ADX(14) 40.2346 +DI:8.9770 -DI:21.4021',
         color='white', fontsize=FS, va='center')
fig.text(7 / W, 1 - 794 / H, 'MACD_Line -0.0812 -0.0524', color='white', fontsize=FS, va='center')

fig.savefig('out.png', dpi=100, facecolor='black')
